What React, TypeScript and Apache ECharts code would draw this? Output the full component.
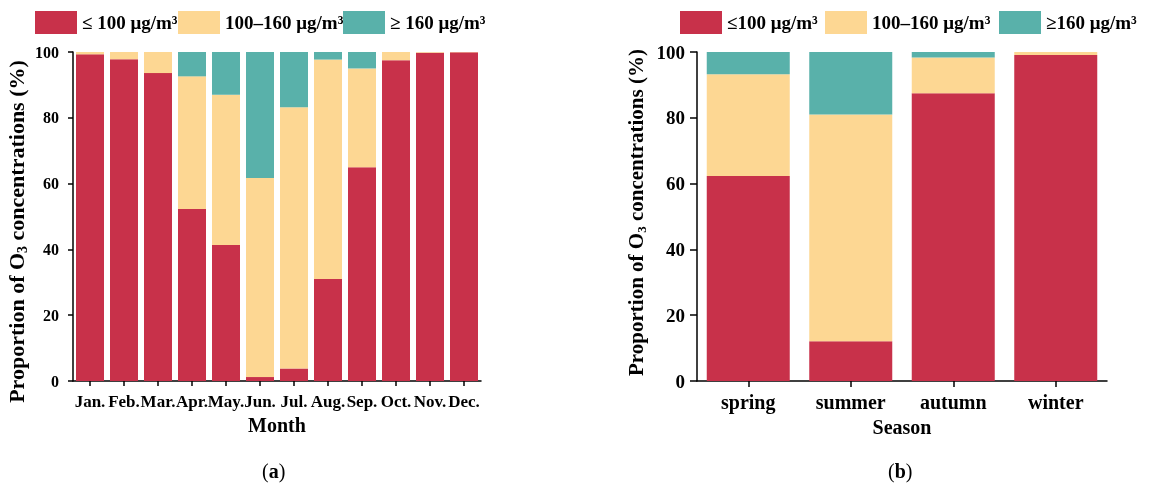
import React, { useEffect, useRef } from 'react';
import * as echarts from 'echarts';

const months = ['Jan.', 'Feb.', 'Mar.', 'Apr.', 'May.', 'Jun.', 'Jul.', 'Aug.', 'Sep.', 'Oct.', 'Nov.', 'Dec.'];
const monthLow = [99.3, 97.8, 93.6, 52.3, 41.3, 1.2, 3.8, 31.0, 65.0, 97.5, 99.8, 99.9];
const monthMid = [0.7, 2.2, 6.4, 40.3, 45.7, 60.5, 79.4, 66.7, 30.0, 2.5, 0.2, 0.1];
const monthHigh = [0, 0, 0, 7.4, 13.0, 38.3, 16.8, 2.3, 5.0, 0, 0, 0];

const seasons = ['spring', 'summer', 'autumn', 'winter'];
const seasonLow = [62.3, 12.1, 87.5, 99.1];
const seasonMid = [30.9, 68.9, 10.8, 0.9];
const seasonHigh = [6.8, 19.0, 1.7, 0];

const namesLeft = ['≤ 100 μg/m³', '100–160 μg/m³', '≥ 160 μg/m³'];
const namesRight = ['≤100 μg/m³', '100–160 μg/m³', '≥160 μg/m³'];

const FONT = '"Liberation Serif", "Times New Roman", serif';
const COLORS = ['#C8314A', '#FDD793', '#59B1AA'];

export default function App() {
  const ref = useRef<HTMLDivElement>(null);
  useEffect(() => {
    if (!ref.current) return;
    const chart = echarts.init(ref.current, undefined, { renderer: 'svg' });
    const axisLine = { show: true, lineStyle: { color: '#000', width: 1.5 } };
    const axisTick = (len: number) => ({ show: true, length: len, lineStyle: { color: '#000', width: 1.5 } });
    const lbl = (size: number, margin: number) => ({
      fontFamily: FONT, fontWeight: 'bold', fontSize: size, color: '#000', margin,
    });
    const yName = '{a|Proportion of O}{s|3}{a| concentrations (%)}';
    const yNameStyle = (size: number, padding: number[]) => ({
      fontFamily: FONT, fontWeight: 'bold', fontSize: size, color: '#000', padding,
      rich: {
        a: { fontFamily: FONT, fontWeight: 'bold', fontSize: size, color: '#000', lineHeight: size + 4 },
        s: { fontFamily: FONT, fontWeight: 'bold', fontSize: Math.round(size * 0.62), color: '#000', verticalAlign: 'bottom', lineHeight: size * 0.7 },
      },
    });
    const legendText = (size: number) => ({ fontFamily: FONT, fontWeight: 'bold', fontSize: size, color: '#000' });
    const mkLegend = (name: string, left: number, size: number) => ({
      data: [name], left, top: 6, itemWidth: 42, itemHeight: 23, itemGap: 0,
      icon: 'rect', textStyle: legendText(size), selectedMode: false,
    });
    const mkSeries = (names: string[], data: number[][], idx: number, stack: string, width: number) =>
      names.map((n, i) => ({
        name: n, type: 'bar', stack, xAxisIndex: idx, yAxisIndex: idx, barWidth: width,
        data: data[i], itemStyle: { color: COLORS[i] },
      }));

    chart.setOption({
      animation: false,
      color: COLORS,
      legend: [
        mkLegend(namesLeft[0], 30, 19),
        mkLegend(namesLeft[1], 173, 19),
        mkLegend(namesLeft[2], 338, 19),
        mkLegend(namesRight[0], 675, 19),
        mkLegend(namesRight[1], 820, 19),
        mkLegend(namesRight[2], 994, 19),
      ],
      grid: [
        { left: 73, top: 52, width: 408, height: 329 },
        { left: 697, top: 52, width: 410, height: 329 },
      ],
      xAxis: [
        {
          type: 'category', gridIndex: 0, data: months, axisLine, axisTick: { ...axisTick(5), alignWithLabel: true },
          axisLabel: { ...lbl(17, 12), interval: 0 }, splitLine: { show: false },
          name: 'Month', nameLocation: 'middle', nameGap: 34,
          nameTextStyle: { fontFamily: FONT, fontWeight: 'bold', fontSize: 20, color: '#000' },
        },
        {
          type: 'category', gridIndex: 1, data: seasons, axisLine, axisTick: { ...axisTick(6), alignWithLabel: true },
          axisLabel: { ...lbl(20, 11), interval: 0 }, splitLine: { show: false },
          name: 'Season', nameLocation: 'middle', nameGap: 36,
          nameTextStyle: { fontFamily: FONT, fontWeight: 'bold', fontSize: 20, color: '#000' },
        },
      ],
      yAxis: [
        {
          type: 'value', gridIndex: 0, min: 0, max: 100, interval: 20, axisLine, axisTick: axisTick(5),
          axisLabel: lbl(16, 14), splitLine: { show: false },
          name: yName, nameLocation: 'middle', nameGap: 44, nameTextStyle: yNameStyle(22, [0, 30, 0, 0]),
        },
        {
          type: 'value', gridIndex: 1, min: 0, max: 100, interval: 20, axisLine, axisTick: axisTick(7),
          axisLabel: lbl(19, 12), splitLine: { show: false },
          name: yName, nameLocation: 'middle', nameGap: 49, nameTextStyle: yNameStyle(21, [0, 0, 0, 8]),
        },
      ],
      series: [
        ...mkSeries(namesLeft, [monthLow, monthMid, monthHigh], 0, 'L', 28),
        ...mkSeries(namesRight, [seasonLow, seasonMid, seasonHigh], 1, 'R', 83),
      ],
      graphic: [
        {
          type: 'text', left: 262, top: 461,
          style: {
            text: '{p|(}{b|a}{p|)}', font: `20px ${FONT}`,
            rich: {
              p: { fontFamily: FONT, fontSize: 20, color: '#000' },
              b: { fontFamily: FONT, fontSize: 20, fontWeight: 'bold', color: '#000' },
            },
          },
        },
        {
          type: 'text', left: 888, top: 461,
          style: {
            text: '{p|(}{b|b}{p|)}', font: `20px ${FONT}`,
            rich: {
              p: { fontFamily: FONT, fontSize: 20, color: '#000' },
              b: { fontFamily: FONT, fontSize: 20, fontWeight: 'bold', color: '#000' },
            },
          },
        },
      ],
    });
    return () => chart.dispose();
  }, []);
  return <div ref={ref} style={{ position: 'fixed', left: 0, top: 0, width: 1155, height: 486 }} />;
}
